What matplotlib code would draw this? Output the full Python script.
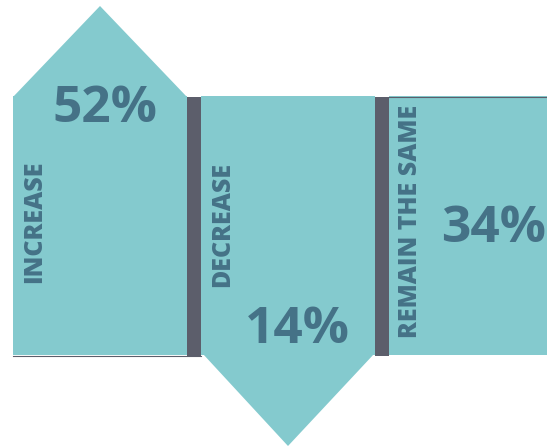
import matplotlib
matplotlib.use("Agg")
import matplotlib.pyplot as plt
from matplotlib.patches import Polygon, Rectangle

# data
categories = ["INCREASE", "DECREASE", "REMAIN THE SAME"]
values = [52, 14, 34]
shapes = ["up", "down", "flat"]

# colours
fill = "#84cace"
dark = "#5c5e6b"
txt = "#457287"

W, H = 547, 446
fig = plt.figure(figsize=(W / 100, H / 100), dpi=100)
ax = fig.add_axes([0, 0, 1, 1])
ax.set_xlim(0, W)
ax.set_ylim(H, 0)
ax.axis("off")

# layout in pixels
left0 = 13
panel_w = 174
gap = 14
top = 96
bottom = 355
arrow_h = 90

# where the value and label go, relative to each panel
value_pos = [(92, 122), (96, 343), (105, 242)]
label_base = [283, 287, 338]

for i, (cat, val, shp) in enumerate(zip(categories, values, shapes)):
    x0 = left0 + i * (panel_w + gap)
    x1 = min(x0 + panel_w, W)
    ax.add_patch(Rectangle((x0, top), x1 - x0, bottom - top, fc=fill, ec="none"))
    cx = x0 + 87
    if shp == "up":
        ax.add_patch(Polygon([(x0, top + 1), (cx, top - arrow_h), (x1, top + 1)],
                             fc=fill, ec="none"))
    elif shp == "down":
        ax.add_patch(Polygon([(x0 + 2, bottom - 1), (cx, bottom + arrow_h + 1),
                              (x1 - 1, bottom - 1)], fc=fill, ec="none"))
    # separator bar after panel
    if i < len(categories) - 1:
        ax.add_patch(Rectangle((x1, top + 1), gap, bottom - top, fc=dark, ec="none"))
    dx, by = value_pos[i]
    ax.text(x0 + dx, by, f"{val}%", ha="center", va="baseline", color=txt,
            fontsize=37, fontweight="bold", family="Open Sans")
    ax.text(x0 + 21.5, label_base[i], cat, rotation=90, ha="left", va="center",
            rotation_mode="anchor", color=txt, fontsize=18, fontweight=800,
            family="Open Sans")

# thin baseline and top line
ax.plot([left0, 201], [bottom + 0.5, bottom + 0.5], color=dark, lw=0.8)
ax.plot([389, W], [top + 0.5, top + 0.5], color=dark, lw=0.8)

fig.savefig("out.png", dpi=100)
